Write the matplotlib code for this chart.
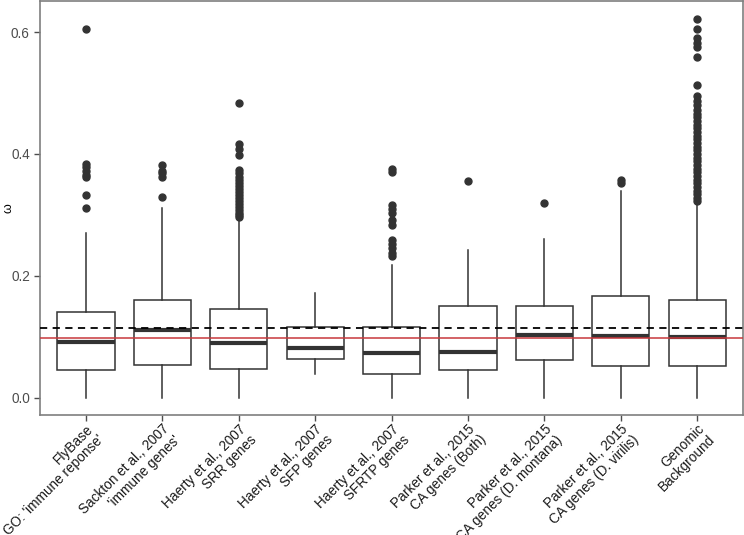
import numpy as np
import matplotlib.pyplot as plt

plt.rcParams['font.family'] = ['Liberation Sans', 'DejaVu Sans']

# categories (two-line tick labels)
labels = ["FlyBase\nGO: 'immune reponse'",
          "Sackton et al., 2007\n'immune genes'",
          "Haerty et al., 2007\nSRR genes",
          "Haerty et al., 2007\nSFP genes",
          "Haerty et al., 2007\nSFRTP genes",
          "Parker et al., 2015\nCA genes (Both)",
          "Parker et al., 2015\nCA genes (D. montana)",
          "Parker et al., 2015\nCA genes (D. virilis)",
          "Genomic\nBackground"]

# box summary values
whislo = [0.0, 0.0, 0.0, 0.038, 0.0, 0.0, 0.0, 0.0, 0.0]
q1 = [0.0446, 0.0538, 0.047, 0.063, 0.0385, 0.045, 0.0615, 0.052, 0.052]
med = [0.0905, 0.1107, 0.090, 0.082, 0.0725, 0.075, 0.1025, 0.101, 0.0987]
q3 = [0.140, 0.160, 0.146, 0.116, 0.116, 0.151, 0.150, 0.167, 0.160]
whishi = [0.270, 0.312, 0.294, 0.171, 0.217, 0.243, 0.261, 0.3385, 0.318]

# outliers
fliers = [
    [0.606, 0.383, 0.378, 0.372, 0.366, 0.362, 0.333, 0.312],
    [0.382, 0.372, 0.368, 0.363, 0.329],
    [0.484, 0.417, 0.408, 0.398, 0.373, 0.368, 0.363, 0.358, 0.353, 0.348,
     0.343, 0.338, 0.333, 0.328, 0.323, 0.318, 0.313, 0.308, 0.303, 0.299, 0.296],
    [],
    [0.375, 0.370, 0.316, 0.310, 0.303, 0.291, 0.284, 0.258, 0.252, 0.245,
     0.238, 0.232],
    [0.355],
    [0.319],
    [0.357, 0.353],
    [0.622, 0.606, 0.591, 0.583, 0.575, 0.560, 0.514, 0.496, 0.487, 0.480,
     0.472, 0.466, 0.460, 0.454, 0.448, 0.442, 0.436, 0.430, 0.424, 0.418,
     0.412, 0.406, 0.400, 0.394, 0.388, 0.382, 0.376, 0.370, 0.364, 0.358,
     0.352, 0.346, 0.340, 0.334, 0.328, 0.322],
]

mean_line = 0.115
ref_line = 0.097

stats = []
for i in range(len(labels)):
    stats.append({'whislo': whislo[i], 'q1': q1[i], 'med': med[i],
                  'q3': q3[i], 'whishi': whishi[i], 'fliers': fliers[i]})

fig = plt.figure(figsize=(7.44, 5.35), dpi=100)
ax = fig.add_axes([0.054, 0.2243, 0.9447, 0.7747])

dark = '#333333'
pos = np.arange(1, len(labels) + 1)
ax.bxp(stats, positions=pos, widths=0.75, showcaps=False, patch_artist=True,
       boxprops=dict(facecolor='white', edgecolor=dark, linewidth=1.1),
       whiskerprops=dict(color=dark, linewidth=1.1),
       medianprops=dict(color=dark, linewidth=3),
       flierprops=dict(marker='o', markerfacecolor=dark, markeredgecolor=dark,
                       markersize=5, linestyle='none'),
       zorder=2)

ax.axhline(mean_line, color='black', linestyle=(0, (4, 3)), linewidth=1.3, zorder=3)
ax.axhline(ref_line, color='#c8383c', linewidth=1.1, zorder=3)

ax.set_xlim(0.4, len(labels) + 0.6)
ax.set_ylim(-0.0287, 0.652)
ax.set_yticks([0.0, 0.2, 0.4, 0.6])
ax.set_yticklabels(['0.0', '0.2', '0.4', '0.6'])
ax.set_xticks(pos)
ax.set_xticklabels(labels, rotation=45, ha='right', va='top',
                   rotation_mode='anchor', multialignment='right',
                   linespacing=1.1)
ax.tick_params(axis='both', colors='#4d4d4d', labelsize=9.8, length=4, width=1)
ax.tick_params(axis='x', labelcolor='#1a1a1a', pad=1)
ax.tick_params(axis='y', labelcolor='#4d4d4d')
for s in ax.spines.values():
    s.set_color('#7f7f7f')
    s.set_linewidth(1.2)

ax.set_ylabel('ω', fontsize=9, color='black')
ax.yaxis.set_label_coords(-0.037, 0.5)

fig.savefig('out.png', dpi=100)
